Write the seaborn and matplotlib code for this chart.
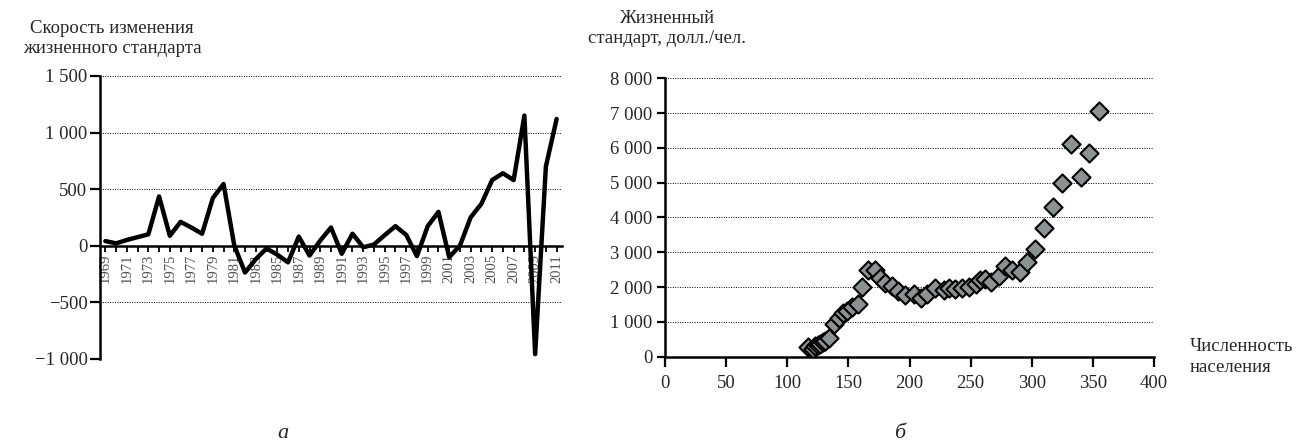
import matplotlib
matplotlib.use("Agg")
import matplotlib.pyplot as plt
from matplotlib.ticker import FuncFormatter
import seaborn as sns

# Left panel: rate of change of living standard by year
years = list(range(1969, 2012))
rate = [40, 20, 50, 75, 100, 435, 87, 210, 160, 105, 420, 545, 0, -238, -120,
        -25, -80, -148, 80, -88, 45, 160, -72, 105, -15, 10, 93, 172, 95, -93,
        172, 298, -102, 0, 250, 370, 580, 640, 580, 1150, -960, 700, 1120]

# Right panel: living standard vs population
population = [117, 121, 123, 125, 127, 129, 131, 134, 138, 142, 146, 149, 153,
              158, 161, 166, 172, 176, 180, 186, 191, 196, 204, 209, 214, 221,
              228, 232, 237, 243, 249, 254, 258, 262, 267, 273, 278, 284, 290,
              296, 303, 310, 317, 325, 332, 340, 347, 355]
standard = [290, 230, 320, 340, 370, 410, 460, 530, 950, 1100, 1250, 1320, 1440,
            1510, 1990, 2490, 2490, 2270, 2120, 2020, 1900, 1770, 1800, 1700,
            1800, 1960, 1910, 1960, 1950, 1960, 2000, 2100, 2200, 2240, 2150,
            2330, 2620, 2500, 2430, 2720, 3100, 3700, 4300, 5000, 6100, 5150,
            5850, 7050]

sns.set_theme(style="white")
plt.rcParams["font.family"] = ["Liberation Serif", "DejaVu Serif"]


def fmt(v, pos):
    s = f"{abs(v):,.0f}".replace(",", " ")
    return ("\u2212" + s) if v < 0 else s


W, H = 1305, 444
fig = plt.figure(figsize=(W / 100, H / 100), dpi=100)
dots = (0, (1, 1.5))

# ---- panel a
ax1 = fig.add_axes([100 / W, 1 - 358.7 / H, 462 / W, 282.7 / H])
sns.lineplot(x=years, y=rate, ax=ax1, color="black", lw=3.2)
ax1.set_xlim(1968.5, 2011.5)
ax1.set_ylim(-1000, 1500)
ax1.spines["top"].set_visible(False)
ax1.spines["right"].set_visible(False)
ax1.spines["bottom"].set_position(("data", 0))
for sp in ("left", "bottom"):
    ax1.spines[sp].set_color("black")
    ax1.spines[sp].set_linewidth(1.8)
ax1.set_xticks(years)
ax1.set_xticklabels([str(y) if (y - 1969) % 2 == 0 else "" for y in years])
ax1.tick_params(axis="x", direction="out", length=4, width=1.3, pad=2,
                labelrotation=90, labelsize=10.5, labelcolor="#505050",
                bottom=True, color="black")
ax1.set_yticks(range(-1000, 1501, 500))
ax1.yaxis.set_major_formatter(FuncFormatter(fmt))
ax1.tick_params(axis="y", direction="out", length=7, width=1.6, pad=2,
                labelsize=13.5, left=True, color="black")
ax1.yaxis.grid(True, linestyle=dots, color="black", lw=0.7)
ax1.set_xlabel("")
ax1.set_ylabel("")

# ---- panel b
ax2 = fig.add_axes([665 / W, 1 - 356.7 / H, 489 / W, 278.4 / H])
sns.scatterplot(x=population, y=standard, ax=ax2, marker="D", s=85,
                color="#8b9293", edgecolor="black", linewidth=1.5, zorder=3)
ax2.set_xlim(0, 400)
ax2.set_ylim(0, 8000)
ax2.spines["top"].set_visible(False)
ax2.spines["right"].set_visible(False)
for sp in ("left", "bottom"):
    ax2.spines[sp].set_color("black")
    ax2.spines[sp].set_linewidth(1.8)
ax2.set_xticks(range(0, 401, 50))
ax2.set_yticks(range(0, 8001, 1000))
ax2.yaxis.set_major_formatter(FuncFormatter(fmt))
ax2.tick_params(axis="x", direction="out", length=7, width=1.6, pad=6,
                labelsize=13.5, bottom=True, color="black")
ax2.tick_params(axis="y", direction="out", length=6, width=1.6, pad=3,
                labelsize=13.5, left=True, color="black")
ax2.yaxis.grid(True, linestyle=dots, color="black", lw=0.7)
ax2.set_xlabel("")
ax2.set_ylabel("")

# ---- texts
fig.text(112 / W, 1 - 38.5 / H, "Скорость изменения\nжизненного стандарта",
         ha="center", va="center", fontsize=13.5, linespacing=1.3)
fig.text(667 / W, 1 - 28.5 / H, "Жизненный\nстандарт, долл./чел.",
         ha="center", va="center", fontsize=13.5, linespacing=1.3)
fig.text(1190 / W, 1 - 338 / H, "Численность\nнаселения",
         ha="left", va="top", fontsize=13.5, linespacing=1.3)
fig.text(283 / W, 1 - 433 / H, "а", ha="center", va="center",
         fontsize=16, style="italic")
fig.text(900 / W, 1 - 433 / H, "б", ha="center", va="center",
         fontsize=16, style="italic")

fig.savefig("out.png", dpi=100)
